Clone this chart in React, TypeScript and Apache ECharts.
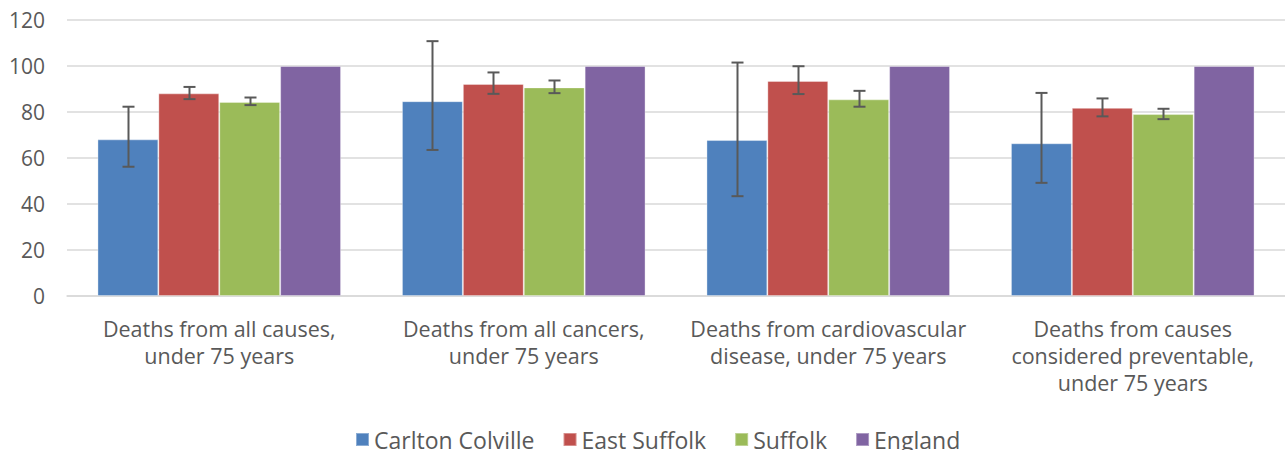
import React, { useEffect, useRef } from "react";
import * as echarts from "echarts";

const categories = [
  "Deaths from all causes,\nunder 75 years",
  "Deaths from all cancers,\nunder 75 years",
  "Deaths from cardiovascular\ndisease, under 75 years",
  "Deaths from causes\nconsidered preventable,\nunder 75 years",
];
const seriesNames = ["Carlton Colville", "East Suffolk", "Suffolk", "England"];
const colors = ["#4F81BD", "#C0504D", "#9BBB59", "#8064A2"];

const carlton = [68.1, 84.7, 67.8, 66.4];
const eastSuffolk = [88.1, 92.2, 93.5, 81.8];
const suffolk = [84.4, 90.7, 85.5, 79.1];
const england = [100, 100, 100, 100];

const carltonLow = [56.2, 63.5, 43.4, 49.2];
const carltonHigh = [82.3, 110.8, 101.5, 88.3];
const eastLow = [85.6, 87.9, 87.8, 78.1];
const eastHigh = [90.9, 97.2, 99.9, 85.9];
const suffolkLow = [83.0, 88.2, 82.3, 76.9];
const suffolkHigh = [86.3, 93.7, 89.2, 81.4];

const yMin = 0;
const yMax = 120;
const yInterval = 20;

const FONT = "Open Sans";
const TEXT_COLOR = "#595959";

function errorSeries(idx: number, lows: number[], highs: number[]) {
  return {
    type: "custom",
    name: seriesNames[idx] + " CI",
    z: 10,
    silent: true,
    data: lows.map((lo, i) => [i, lo, highs[i]]),
    encode: { x: 0, y: [1, 2] },
    renderItem: (params: any, api: any) => {
      const cat = api.value(0);
      const lo = api.coord([cat, api.value(1)]);
      const hi = api.coord([cat, api.value(2)]);
      const catW = api.size([1, 0])[0];
      const barW = (catW * 0.8) / 4;
      const x = Math.round(lo[0] + (idx - 1.5) * barW) + 0.5;
      const half = 6;
      const style = { stroke: "#595959", lineWidth: 2 };
      return {
        type: "group",
        children: [
          { type: "line", shape: { x1: x, y1: lo[1], x2: x, y2: hi[1] }, style },
          { type: "line", shape: { x1: x - half, y1: lo[1], x2: x + half, y2: lo[1] }, style },
          { type: "line", shape: { x1: x - half, y1: hi[1], x2: x + half, y2: hi[1] }, style },
        ],
      };
    },
  };
}

export default function App() {
  const ref = useRef<HTMLDivElement>(null);
  useEffect(() => {
    document.body.style.margin = "0";
    if (!ref.current) return;
    const chart = echarts.init(ref.current, undefined, { renderer: "svg" });
    const values = [carlton, eastSuffolk, suffolk, england];
    chart.setOption({
      animation: false,
      color: colors,
      textStyle: { fontFamily: FONT },
      grid: { left: 67, right: 0, top: 20, bottom: 154, containLabel: false },
      legend: {
        data: seriesNames,
        left: 350,
        top: 423,
        icon: "rect",
        itemWidth: 13,
        itemHeight: 13,
        itemGap: 28,
        textStyle: { fontFamily: FONT, fontSize: 23, color: TEXT_COLOR },
      },
      xAxis: {
        type: "category",
        data: categories,
        axisLine: { show: true, lineStyle: { color: "#d9d9d9", width: 1.5 } },
        axisTick: { show: false },
        axisLabel: {
          interval: 0,
          margin: 19,
          fontFamily: FONT,
          fontSize: 21.5,
          lineHeight: 27,
          color: TEXT_COLOR,
          align: "center",
        },
      },
      yAxis: {
        type: "value",
        min: yMin,
        max: yMax,
        interval: yInterval,
        axisLine: { show: false },
        axisTick: { show: false },
        splitLine: { lineStyle: { color: "#d9d9d9", width: 1.5 } },
        axisLabel: { margin: 22, fontFamily: FONT, fontSize: 21, color: TEXT_COLOR },
      },
      series: [
        ...values.map((v, i) => ({
          type: "bar",
          name: seriesNames[i],
          data: v,
          barGap: "0%",
          barCategoryGap: "20%",
          itemStyle: { color: colors[i], borderColor: "rgba(255,255,255,0.35)", borderWidth: 1 },
        })),
        errorSeries(0, carltonLow, carltonHigh),
        errorSeries(1, eastLow, eastHigh),
        errorSeries(2, suffolkLow, suffolkHigh),
      ],
    });
    return () => chart.dispose();
  }, []);
  return <div ref={ref} style={{ width: 1285, height: 450 }} />;
}
